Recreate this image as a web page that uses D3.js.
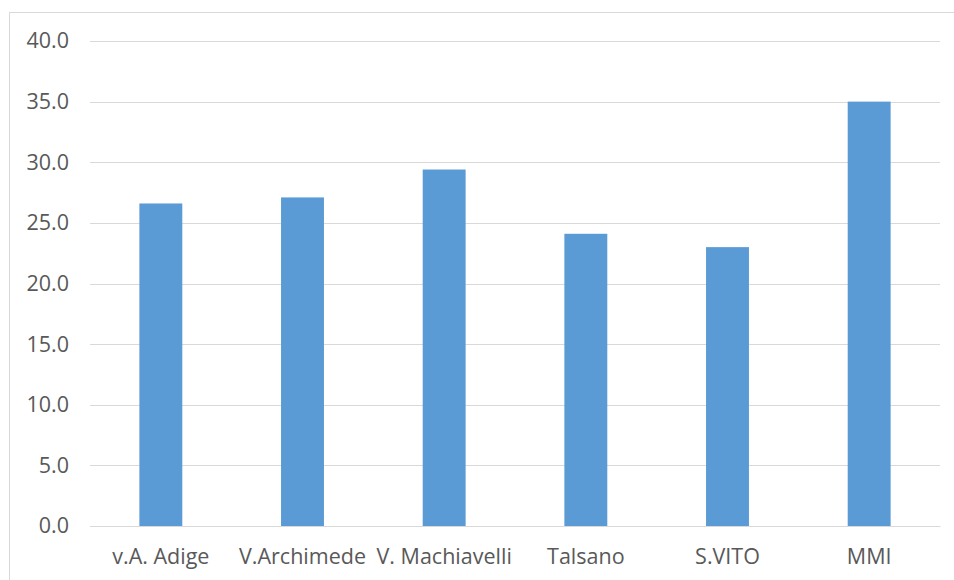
<!DOCTYPE html>
<html><head><meta charset="utf-8">
<script src="https://cdn.jsdelivr.net/npm/d3@7"></script>
<style>body{margin:0;background:#fff;}svg{display:block;}</style>
</head><body><svg id="c" width="954" height="580"></svg>
<script>
const categories = ["v.A. Adige","V.Archimede","V. Machiavelli","Talsano","S.VITO","MMI"];
const values = [26.6, 27.1, 29.4, 24.1, 23.0, 35.0];
const yTicks = [0,5,10,15,20,25,30,35,40];

const svg = d3.select("#c");
const font = "'Open Sans', sans-serif";
svg.append("rect").attr("x",9.5).attr("y",12.5).attr("width",960).attr("height",600)
  .attr("fill","#fff").attr("stroke","#d9d9d9").attr("stroke-width",1);

const x = d3.scaleBand().domain(categories).range([90,940]).padding(0);
const y = d3.scaleLinear().domain([0,40]).range([526,41]);

const grid = svg.append("g");
grid.selectAll("line").data(yTicks).join("line")
  .attr("x1",90).attr("x2",940)
  .attr("y1",d=>Math.round(y(d))+0.5).attr("y2",d=>Math.round(y(d))+0.5)
  .attr("stroke","#d9d9d9").attr("stroke-width",1);

const yAxis = d3.axisLeft(y).tickValues(yTicks).tickFormat(d3.format(".1f")).tickSize(0).tickPadding(21);
const ya = svg.append("g").attr("transform","translate(90,0)").call(yAxis);
ya.select(".domain").remove();
ya.selectAll("text").attr("font-family",font).attr("font-size","21.5px").attr("fill","#595959");

const bw = x.bandwidth()*0.303;
svg.append("g").selectAll("rect").data(values).join("rect")
  .attr("x",(d,i)=>x(categories[i])+x.bandwidth()/2-bw/2)
  .attr("width",bw)
  .attr("y",d=>y(d)).attr("height",d=>y(0)-y(d))
  .attr("fill","#5b9bd5");

const xAxis = d3.axisBottom(x).tickSize(0).tickPadding(23);
const xa = svg.append("g").attr("transform","translate(0,526)").call(xAxis);
xa.select(".domain").attr("stroke","#d9d9d9");
xa.selectAll("text").attr("font-family",font).attr("font-size","21.5px").attr("fill","#595959");
</script></body></html>
